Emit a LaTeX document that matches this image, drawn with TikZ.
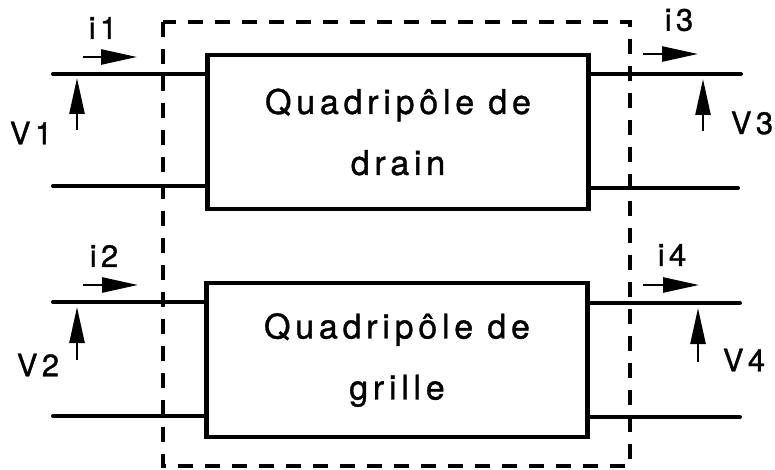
\documentclass[tikz,border=0pt]{standalone}
\usepackage{fontspec}
\setmainfont{TeX Gyre Heros}
\newfontfamily\quadfont[LetterSpace=14,FakeBold=1]{TeX Gyre Heros}
\usetikzlibrary{arrows.meta}
\tikzset{
    quad/.style={draw, line width=4.5pt, minimum width=381pt, minimum height=154pt,
        align=center, font=\quadfont\fontsize{34}{61}\selectfont},
    lead/.style={line width=4pt, line cap=round},
    courant/.style={line width=2.5pt, -{Triangle[length=36pt,width=15pt]}},
    lbl/.style={font=\quadfont\fontsize{31}{31}\selectfont},
    cadre/.style={line width=3.5pt, dash pattern=on 15pt off 12pt}
}
\begin{document}
\begin{tikzpicture}[x=1pt, y=-1pt]
    \useasboundingbox (0,0) rectangle (775,470);
    % Dashed outline
    \draw[cadre] (163,22) rectangle (630,466);

    % Drain two-port
    \begin{scope}
        \node[quad] (drain) at (398,132) {Quadripôle de\\drain};
        \coordinate (d1) at (53,74);
        \coordinate (d2) at (53,186);
        \coordinate (d3) at (741,74);
        \coordinate (d4) at (738,188);
        \draw[lead] (d1) -- (d1 -| drain.west);
        \draw[lead] (d2) -- (d2 -| drain.west);
        \draw[lead] (d3) -- (d3 -| drain.east);
        \draw[lead] (d4) -- (d4 -| drain.east);
        % currents and voltages
        \coordinate (i1a) at (83,57);   \coordinate (i1b) at (137,57);
        \coordinate (i3a) at (643,54);  \coordinate (i3b) at (698,54);
        \coordinate (v1a) at (77,130);  \coordinate (v1b) at (77,78);
        \coordinate (v3a) at (703,131); \coordinate (v3b) at (703,79);
        \draw[courant] (i1a) -- (i1b);
        \draw[courant] (i3a) -- (i3b);
        \draw[courant] (v1a) -- (v1b);
        \draw[courant] (v3a) -- (v3b);
        \node[lbl] (li1) at (103,28) {i1};
        \node[lbl] (li3) at (679,20) {i3};
        \node[lbl] (lv1) at (31,133) {V1};
        \node[lbl] (lv3) at (752,123) {V3};
    \end{scope}

    % Gate two-port
    \begin{scope}
        \node[quad] (grille) at (397,360) {Quadripôle de\\grille};
        \coordinate (g1) at (53,302);
        \coordinate (g2) at (53,416);
        \coordinate (g3) at (740,303);
        \coordinate (g4) at (740,417);
        \draw[lead] (g1) -- (g1 -| grille.west);
        \draw[lead] (g2) -- (g2 -| grille.west);
        \draw[lead] (g3) -- (g3 -| grille.east);
        \draw[lead] (g4) -- (g4 -| grille.east);
        % currents and voltages
        \coordinate (i2a) at (83,285);  \coordinate (i2b) at (138,285);
        \coordinate (i4a) at (643,285); \coordinate (i4b) at (699,285);
        \coordinate (v2a) at (77,360);  \coordinate (v2b) at (77,307);
        \coordinate (v4a) at (698,362); \coordinate (v4b) at (698,308);
        \draw[courant] (i2a) -- (i2b);
        \draw[courant] (i4a) -- (i4b);
        \draw[courant] (v2a) -- (v2b);
        \draw[courant] (v4a) -- (v4b);
        \node[lbl] (li2) at (104,256) {i2};
        \node[lbl] (li4) at (672,255) {i4};
        \node[lbl] (lv2) at (38,365) {V2};
        \node[lbl] (lv4) at (744,360) {V4};
    \end{scope}
\end{tikzpicture}
\end{document}
